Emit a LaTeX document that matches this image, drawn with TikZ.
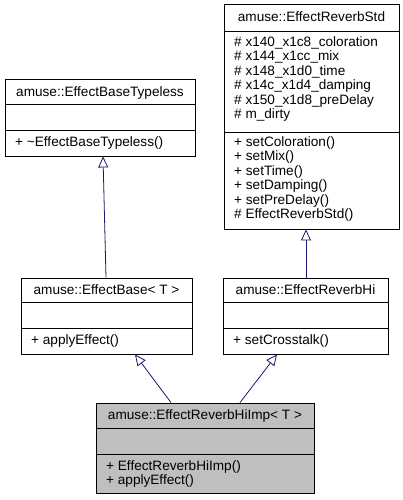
\documentclass[tikz,border=0pt]{standalone}
\usepackage{fontspec}
\setmainfont{Liberation Sans}
\usetikzlibrary{arrows.meta}
\definecolor{edgeblue}{HTML}{191970}
\definecolor{hlgray}{HTML}{BFBFBF}
\tikzset{
  classbox/.style={draw=black, line width=0.9pt, rectangle, inner sep=0pt, fill=white},
  hlbox/.style={classbox, fill=hlgray},
  sep/.style={draw=black, line width=0.9pt},
  ttl/.style={anchor=base, inner sep=0pt, font=\fontsize{13.6}{14.4}\selectfont},
  mem/.style={anchor=base west, inner sep=0pt, align=left, font=\fontsize{13.6}{14.4}\selectfont},
  inh/.style={draw=edgeblue, line width=0.8pt, -{Triangle[open, length=11pt, width=10pt, fill=white]}},
}
\begin{document}
\begin{tikzpicture}[x=1pt, y=-1pt]
\useasboundingbox (0,0) rectangle (403,500);
% EffectBaseTypeless
\node[classbox, minimum width=190pt, minimum height=77pt] (typeless) at (100,117.5) {};
\draw[sep] (5,104) -- (195,104);
\draw[sep] (5,130) -- (195,130);
\node[ttl] (typelessT) at (100,96) {amuse::EffectBaseTypeless};
\node[mem] (typelessM) at (15,146.5) {+ \textasciitilde EffectBaseTypeless()};
% EffectReverbStd
\node[classbox, minimum width=175pt, minimum height=225pt] (std) at (311.5,116.5) {};
\draw[sep] (224,31) -- (399,31);
\draw[sep] (224,132) -- (399,132);
\node[ttl] (stdT) at (311.5,21.5) {amuse::EffectReverbStd};
\node[mem] (stdA) at (234,118.5) {\# x140\_x1c8\_coloration\\\# x144\_x1cc\_mix\\\# x148\_x1d0\_time\\\# x14c\_x1d4\_damping\\\# x150\_x1d8\_preDelay\\\# m\_dirty};
\node[mem] (stdM) at (234,218.5) {+ setColoration()\\+ setMix()\\+ setTime()\\+ setDamping()\\+ setPreDelay()\\\# EffectReverbStd()};
% EffectBase<T>
\node[classbox, minimum width=171pt, minimum height=76pt] (base) at (106.5,316) {};
\draw[sep] (21,302) -- (192,302);
\draw[sep] (21,328) -- (192,328);
\node[ttl] (baseT) at (106.5,294.5) {amuse::EffectBase< T >};
\node[mem] (baseM) at (31,344.5) {+ applyEffect()};
% EffectReverbHi
\node[classbox, minimum width=165pt, minimum height=76pt] (hi) at (305.5,316) {};
\draw[sep] (223,302) -- (388,302);
\draw[sep] (223,328) -- (388,328);
\node[ttl] (hiT) at (305.5,294.5) {amuse::EffectReverbHi};
\node[mem] (hiM) at (233,344.5) {+ setCrosstalk()};
% EffectReverbHiImp<T>
\node[hlbox, minimum width=218pt, minimum height=90pt] (imp) at (205,448) {};
\draw[sep] (96,428) -- (314,428);
\draw[sep] (96,454) -- (314,454);
\node[ttl] (impT) at (205,419.5) {amuse::EffectReverbHiImp< T >};
\node[mem] (impM) at (106,484.5) {+ EffectReverbHiImp()\\+ applyEffect()};
% inheritance
\draw[inh] ([xshift=-0.5pt]base.north) -- ([xshift=3pt]typeless.south);
\draw[inh] ([xshift=0.5pt]hi.north) -- ([xshift=-5.5pt]std.south);
\draw[inh] ([xshift=-34pt]imp.north) -- ([xshift=28.5pt]base.south);
\draw[inh] ([xshift=35pt]imp.north) -- ([xshift=-28.5pt]hi.south);
\end{tikzpicture}
\end{document}
